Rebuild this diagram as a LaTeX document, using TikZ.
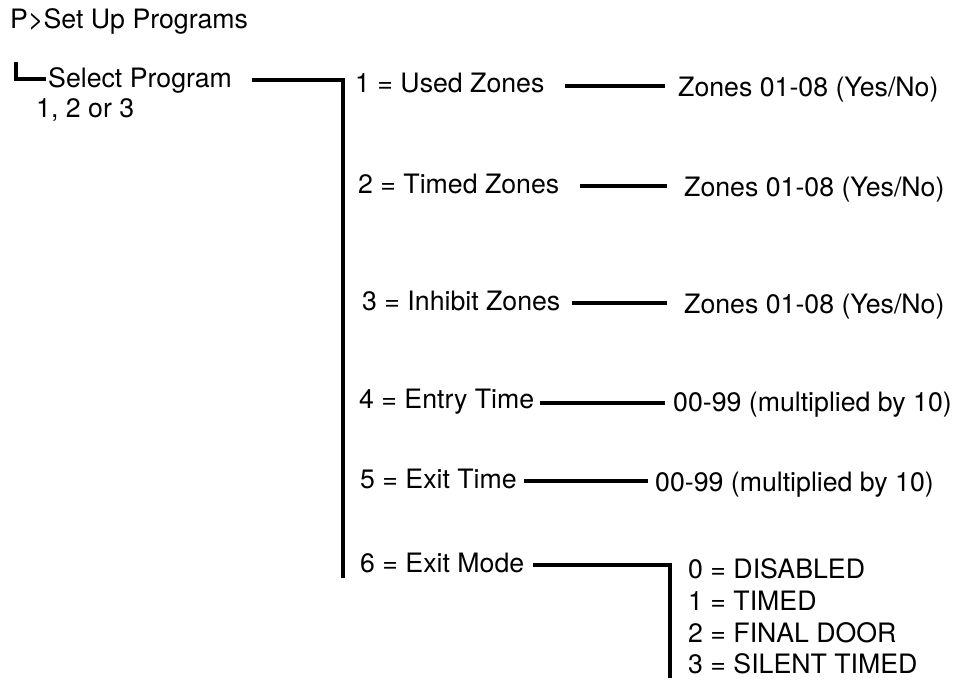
\documentclass[tikz,border=0pt]{standalone}
\usepackage{fontspec}
\setmainfont{TeX Gyre Heros}
\begin{document}
\begin{tikzpicture}[x=1pt,y=-1pt,
  lbl/.style={anchor=base west,inner sep=0pt,font=\fontsize{26.7}{30}\selectfont},
  conn/.style={line width=3.3pt}]
\useasboundingbox (0,0) rectangle (955,681);
% texts
\node[lbl] (hdr) at (10,28) {P>Set Up Programs};
\node[lbl] (sel) at (48,87) {Select Program};
\node[lbl] (sel2) at (36,117) {1, 2 or 3};
\node[lbl] (r1) at (355,92) {1 = Used Zones};
\node[lbl] (v1) at (678,96) {Zones 01-08 (Yes/No)};
\node[lbl] (r2) at (358,193) {2 = Timed Zones};
\node[lbl] (v2) at (684,196) {Zones 01-08 (Yes/No)};
\node[lbl] (r3) at (362,310) {3 = Inhibit Zones};
\node[lbl] (v3) at (684,313) {Zones 01-08 (Yes/No)};
\node[lbl] (r4) at (359,408) {4 = Entry Time};
\node[lbl] (v4) at (673,411) {00-99 (multiplied by 10)};
\node[lbl] (r5) at (360,488) {5 = Exit Time};
\node[lbl] (v5) at (655,491) {00-99 (multiplied by 10)};
\node[lbl] (r6) at (360,572) {6 = Exit Mode};
\node[lbl] (m0) at (688,578) {0 = DISABLED};
\node[lbl] (m1) at (688,610) {1 = TIMED};
\node[lbl] (m2) at (688,642) {2 = FINAL DOOR};
\node[lbl] (m3) at (688,673) {3 = SILENT TIMED};
% junction coordinates
\coordinate (lt) at (16,62);
\coordinate (lb) at (16,79);
\coordinate (le) at (46,79);
\coordinate (s0) at (252,80);
\coordinate (tr) at (343,80);
\coordinate (bt) at (343,578);
\coordinate (a1) at (565,86);  \coordinate (b1) at (665,86);
\coordinate (a2) at (580,186); \coordinate (b2) at (667,186);
\coordinate (a3) at (572,303); \coordinate (b3) at (667,303);
\coordinate (a4) at (540,403); \coordinate (b4) at (665,403);
\coordinate (a5) at (524,481); \coordinate (b5) at (648,481);
\coordinate (a6) at (533,565); \coordinate (c6) at (670,565);
\coordinate (d6) at (670,678);
% connectors
\draw[conn] (lt) -- (lb) -- (le);
\draw[conn] (s0) -- (tr) -- (bt);
\draw[conn] (a1) -- (b1);
\draw[conn] (a2) -- (b2);
\draw[conn] (a3) -- (b3);
\draw[conn] (a4) -- (b4);
\draw[conn] (a5) -- (b5);
\draw[conn] (a6) -- (c6) -- (d6);
\end{tikzpicture}
\end{document}
